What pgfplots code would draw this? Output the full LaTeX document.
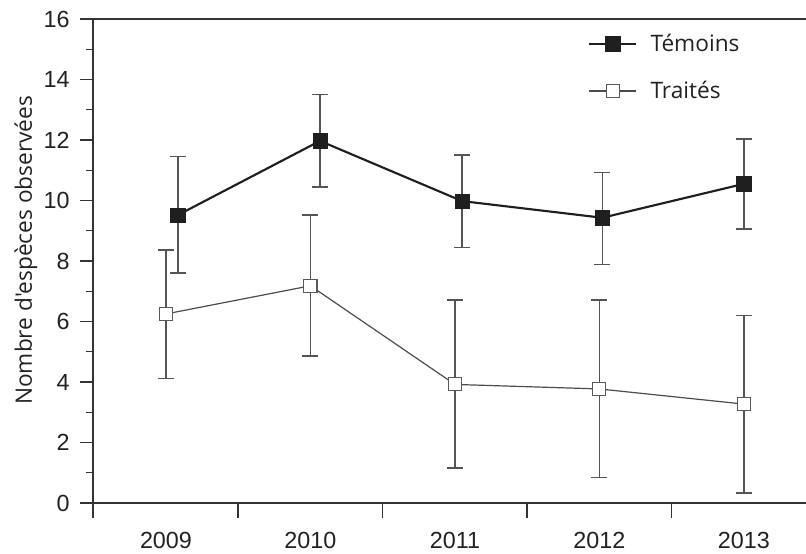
\documentclass[border=0pt]{standalone}
\usepackage{fontspec}
\setmainfont{Liberation Sans}
\newfontfamily\opensans{Open Sans}
\usepackage{pgfplots}
\usepackage{pgfplotstable}
\pgfplotsset{compat=1.18}

\pgfplotstableread{
x y ep em
0.083 9.52 1.93 1.92
1.066 11.97 1.53 1.53
2.05 9.98 1.52 1.53
3.02 9.43 1.49 1.54
4.0 10.55 1.48 1.49
}\temoins

\pgfplotstableread{
x y ep em
0.0 6.25 2.11 2.13
1.0 7.18 2.34 2.32
2.0 3.92 2.79 2.77
3.0 3.77 2.94 2.92
4.0 3.27 2.93 2.94
}\traites

\definecolor{axcol}{HTML}{333333}
\definecolor{txtcol}{HTML}{222222}
\definecolor{errcol}{HTML}{555555}

\begin{document}
\begin{tikzpicture}
\begin{axis}[
  scale only axis,
  width=534.75pt, height=363pt,
  xmin=-0.505, xmax=4.43,
  ymin=0, ymax=16,
  axis x line*=bottom, axis y line*=left,
  axis line style={-, line width=1.1pt, color=axcol},
  tick align=outside,
  tick style={line width=1.1pt, color=axcol},
  ytick={0,2,...,16},
  minor ytick={1,3,...,15},
  major tick length=10pt,
  minor tick length=5.25pt,
  xtick={0,1,2,3,4},
  xticklabels={2009,2010,2011,2012,2013},
  xtick style={draw=none},
  extra x ticks={-0.505,0.5,1.5,2.5,3.5},
  extra x tick labels={},
  extra x tick style={xtick style={draw=axcol, line width=1.1pt}, major tick length=11.25pt},
  /pgf/number format/assume math mode=true,
  ticklabel style={font=\fontsize{17.5}{19}\selectfont, color=txtcol},
  yticklabel style={xshift=-4pt},
  xticklabel style={yshift=-8pt},
  ylabel={Nombre d'espèces observées},
  ylabel style={font=\opensans\fontsize{17}{19}\selectfont, color=txtcol, inner sep=0pt, anchor=base, at={(axis description cs:-0.0856,0.522)}},
  clip=false,
  legend cell align=left,
  legend style={draw=none, fill=none, inner sep=0pt, at={(0.694,0.975)}, anchor=north west,
    font=\opensans\fontsize{17}{19}\selectfont, text=txtcol, row sep=17pt,
    /tikz/every odd column/.append style={column sep=8pt}},
  legend image code/.code={\draw[mark repeat=2,mark phase=2] plot coordinates {(0pt,0pt)(17.6pt,0pt)(35.25pt,0pt)};},
]
\addplot[color=black!88, line width=1.6pt, mark=square*, mark size=5.4pt,
  mark options={fill=black!88, draw=black!88, line width=0.4pt},
  error bars/.cd, y dir=both, y explicit,
  error bar style={line width=1.1pt, color=errcol},
  error mark options={rotate=90, mark size=6pt, line width=1.1pt, color=errcol}]
  table[x=x, y=y, y error plus=ep, y error minus=em]{\temoins};
\addlegendentry{Témoins}
\addplot[color=black!70, line width=0.9pt, mark=square*, mark size=4.9pt,
  mark options={fill=white, draw=black!65, line width=0.8pt},
  error bars/.cd, y dir=both, y explicit,
  error bar style={line width=1.1pt, color=errcol},
  error mark options={rotate=90, mark size=6pt, line width=1.1pt, color=errcol}]
  table[x=x, y=y, y error plus=ep, y error minus=em]{\traites};
\addlegendentry{Traités}
\draw[line width=1.1pt, color=axcol] (rel axis cs:0,1) -- (rel axis cs:1,1);
\end{axis}
\pgfresetboundingbox
\path (-69.75pt,-37.5pt) rectangle (534.75pt,377.25pt);
\end{tikzpicture}
\end{document}
